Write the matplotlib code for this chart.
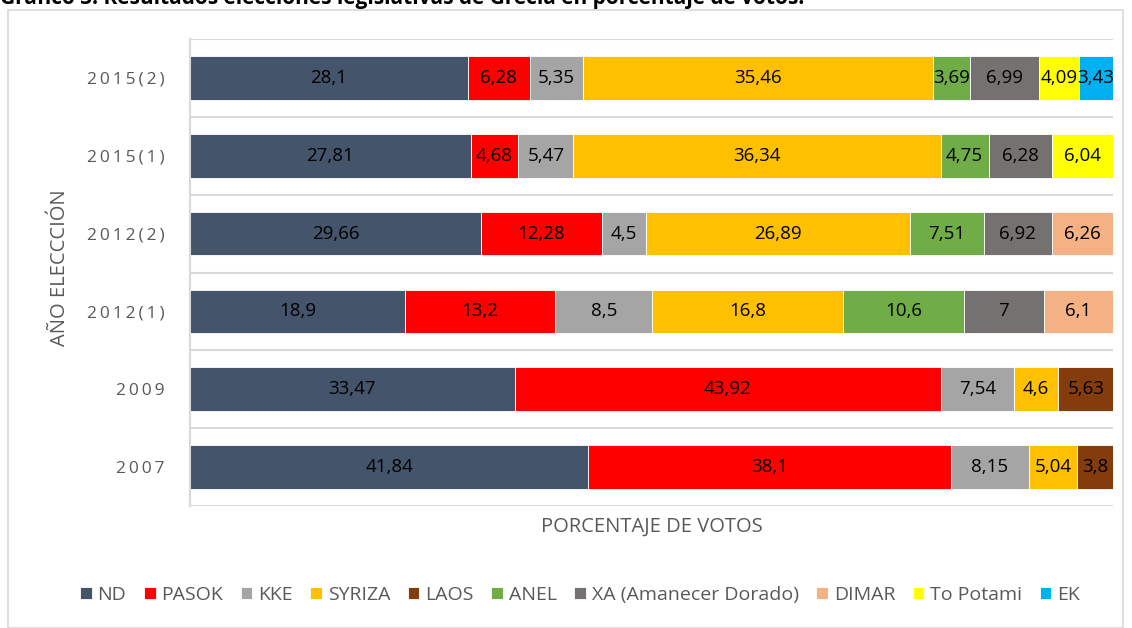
import matplotlib
matplotlib.use("Agg")
import matplotlib.pyplot as plt
from matplotlib.patches import Rectangle
import numpy as np

# elections, bottom to top
years = ["2007", "2009", "2012(1)", "2012(2)", "2015(1)", "2015(2)"]
parties = ["ND", "PASOK", "KKE", "SYRIZA", "LAOS", "ANEL",
           "XA (Amanecer Dorado)", "DIMAR", "To Potami", "EK"]
colors = ["#44546A", "#FF0000", "#A5A5A5", "#FFC000", "#843C0C", "#70AD47",
          "#767171", "#F4B183", "#FFFF00", "#00B0F0"]

nd = [41.84, 33.47, 18.9, 29.66, 27.81, 28.1]
pasok = [38.1, 43.92, 13.2, 12.28, 4.68, 6.28]
kke = [8.15, 7.54, 8.5, 4.5, 5.47, 5.35]
syriza = [5.04, 4.6, 16.8, 26.89, 36.34, 35.46]
laos = [3.8, 5.63, 0, 0, 0, 0]
anel = [0, 0, 10.6, 7.51, 4.75, 3.69]
xa = [0, 0, 7, 6.92, 6.28, 6.99]
dimar = [0, 0, 6.1, 6.26, 0, 0]
potami = [0, 0, 0, 0, 6.04, 4.09]
ek = [0, 0, 0, 0, 0, 3.43]

series = [nd, pasok, kke, syriza, laos, anel, xa, dimar, potami, ek]

FONT = ["Open Sans", "DejaVu Sans"]
plt.rcParams['font.family'] = FONT
GRAY = "#595959"

fig = plt.figure(figsize=(11.32, 6.28), dpi=100)
ax = fig.add_axes([190/1132, 1 - 506/628, (1113-190)/1132, (506-39)/628])

# chart frame
fig.patches.append(Rectangle((8/1132, 0), (1123-8)/1132, 1 - 10/628,
                             transform=fig.transFigure, fill=False,
                             edgecolor="#D9D9D9", linewidth=1.2))

# title, cut off at the top edge like in the source
fig.text(0.0, 1 - 4/628, "Gráfico 3. Resultados elecciones legislativas de Grecia en porcentaje de votos.",
         fontsize=15, fontweight="bold", ha="left", va="baseline", color="black")

data = np.array(series, dtype=float)
totals = data.sum(axis=0)
pct = data / totals * 100
y = np.arange(len(years))
left = np.zeros(len(years))

for i, name in enumerate(parties):
    w = pct[i]
    ax.barh(y, w, left=left, height=0.56, color=colors[i], label=name,
            edgecolor="white", linewidth=0.6)
    for j in range(len(years)):
        if data[i, j] > 0:
            txt = ("%g" % data[i, j]).replace(".", ",")
            ax.text(left[j] + w[j] / 2, y[j], txt, ha="center", va="center",
                    fontsize=13.5, color="black")
    left = left + w

ax.set_xlim(0, 100)
ax.set_ylim(-0.5, len(years) - 0.5)
ax.set_xticks([])
ax.set_yticks(y)
ax.set_yticklabels(["\u2009".join(s) for s in years], fontsize=12.5, color=GRAY)
ax.tick_params(axis="y", length=0, pad=18)

for b in np.arange(-0.5, len(years), 1.0):
    ax.axhline(b, color="#D9D9D9", linewidth=1.5, zorder=0)
for s in ["top", "right", "bottom"]:
    ax.spines[s].set_visible(False)
ax.spines["left"].set_color("#D9D9D9")
ax.spines["left"].set_linewidth(1.5)

ax.set_xlabel("PORCENTAJE DE VOTOS", fontsize=14.5, color=GRAY, labelpad=8)
fig.text(60/1132, 1 - 268/628, "AÑO ELECCCIÓN", rotation=90, fontsize=14.5,
         color=GRAY, ha="center", va="center")

handles, labels = ax.get_legend_handles_labels()
fig.legend(handles, labels, loc="center", bbox_to_anchor=(580/1132, 1 - 595/628),
           ncol=10, frameon=False, fontsize=14, labelcolor=GRAY,
           handlelength=0.6, handleheight=0.6, handletextpad=0.3,
           columnspacing=0.9)

fig.savefig("out.png", dpi=100)
